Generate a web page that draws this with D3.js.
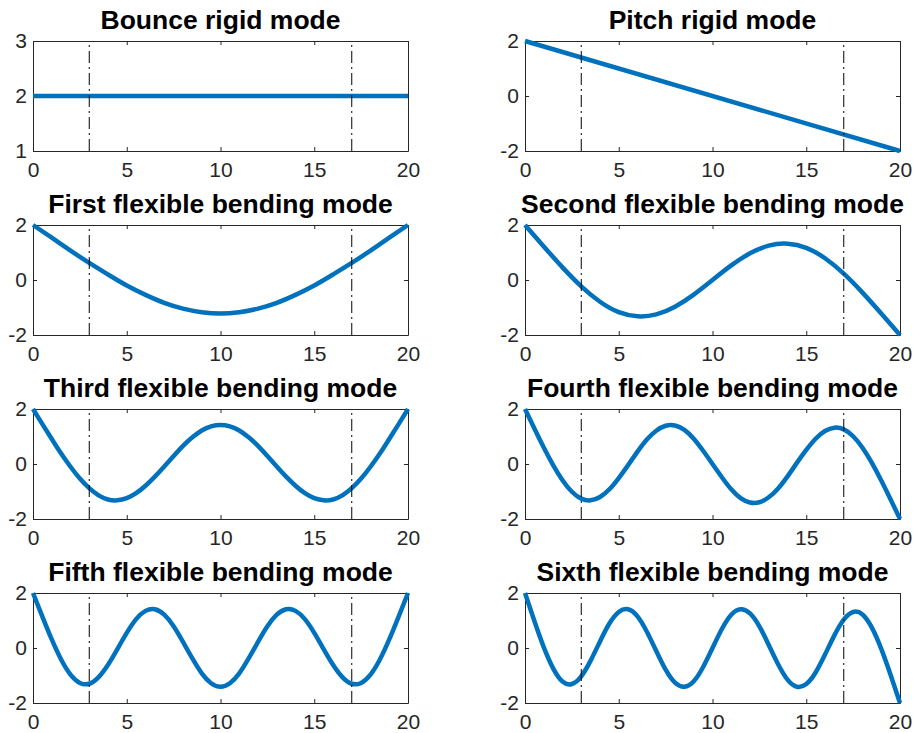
<!DOCTYPE html>
<html>
<head>
<meta charset="utf-8">
<script src="https://cdn.jsdelivr.net/npm/d3@7"></script>
<style>
  html, body { margin: 0; padding: 0; background: #fff; }
  svg { display: block; }
</style>
</head>
<body>
<svg id="chart" width="914" height="733"></svg>
<script>
// Beam position along the body (m)
const xRigid = [0, 20];
const xCoarse = [0, 1, 2, 3, 4, 5, 6, 7, 8, 9, 10, 11, 12, 13, 14, 15, 16, 17, 18, 19, 20];
const xFine = [0, 0.5, 1, 1.5, 2, 2.5, 3, 3.5, 4, 4.5, 5, 5.5, 6, 6.5, 7, 7.5, 8, 8.5, 9, 9.5,
               10, 10.5, 11, 11.5, 12, 12.5, 13, 13.5, 14, 14.5, 15, 15.5, 16, 16.5, 17, 17.5,
               18, 18.5, 19, 19.5, 20];

// Mode shape amplitudes
const bounceMode = [2, 2];
const pitchMode = [2, -2];
const bending1 = [2, 1.54, 1.07, 0.62, 0.20, -0.20, -0.54, -0.83, -1.04, -1.17, -1.22,
                  -1.17, -1.04, -0.83, -0.54, -0.20, 0.20, 0.62, 1.07, 1.54, 2];
const bending2 = [2, 1.22, 0.46, -0.23, -0.79, -1.17, -1.32, -1.25, -0.97, -0.53, 0,
                  0.53, 0.97, 1.25, 1.32, 1.17, 0.79, 0.23, -0.46, -1.22, -2];
const bending3 = [2, 1.45, 0.91, 0.38, -0.10, -0.53, -0.88, -1.14, -1.29, -1.32, -1.24,
                  -1.06, -0.79, -0.46, -0.09, 0.29, 0.66, 0.97, 1.22, 1.37, 1.42,
                  1.37, 1.22, 0.97, 0.66, 0.29, -0.09, -0.46, -0.79, -1.06, -1.24,
                  -1.32, -1.29, -1.14, -0.88, -0.53, -0.10, 0.38, 0.91, 1.45, 2];
const bending4 = [2, 1.29, 0.60, -0.04, -0.59, -1.01, -1.26, -1.32, -1.20, -0.92, -0.51,
                  -0.04, 0.45, 0.89, 1.21, 1.39, 1.40, 1.24, 0.92, 0.48, 0,
                  -0.48, -0.92, -1.24, -1.40, -1.39, -1.21, -0.89, -0.45, 0.04, 0.51,
                  0.92, 1.20, 1.32, 1.26, 1.01, 0.59, 0.04, -0.60, -1.29, -2];
const bending5 = [2, 1.14, 0.31, -0.42, -0.97, -1.27, -1.30, -1.06, -0.61, -0.04, 0.55,
                  1.05, 1.35, 1.41, 1.21, 0.79, 0.22, -0.38, -0.92, -1.28, -1.41,
                  -1.28, -0.92, -0.38, 0.22, 0.79, 1.21, 1.41, 1.35, 1.05, 0.55,
                  -0.04, -0.61, -1.06, -1.30, -1.27, -0.97, -0.42, 0.31, 1.14, 2];
const bending6 = [2, 0.98, 0.03, -0.74, -1.22, -1.31, -1.03, -0.46, 0.24, 0.89, 1.31,
                  1.41, 1.15, 0.59, -0.11, -0.79, -1.26, -1.41, -1.21, -0.69, 0,
                  0.69, 1.21, 1.41, 1.26, 0.79, 0.11, -0.59, -1.15, -1.41, -1.31,
                  -0.89, -0.24, 0.46, 1.03, 1.31, 1.22, 0.74, -0.03, -0.98, -2];

// Suspension / support stations marked on every panel
const supportX = [3, 17];

// Titles and axis ticks
const titles = ["Bounce rigid mode", "Pitch rigid mode",
                "First flexible bending mode", "Second flexible bending mode",
                "Third flexible bending mode", "Fourth flexible bending mode",
                "Fifth flexible bending mode", "Sixth flexible bending mode"];
const xTicks = [0, 5, 10, 15, 20];
const yTicksRigid = [1, 2, 3];
const yTicksFlex = [-2, 0, 2];

const panels = [
  { title: titles[0], x: xRigid, y: bounceMode, yDomain: [1, 3], yTicks: yTicksRigid },
  { title: titles[1], x: xRigid, y: pitchMode, yDomain: [-2, 2], yTicks: yTicksFlex },
  { title: titles[2], x: xCoarse, y: bending1, yDomain: [-2, 2], yTicks: yTicksFlex },
  { title: titles[3], x: xCoarse, y: bending2, yDomain: [-2, 2], yTicks: yTicksFlex },
  { title: titles[4], x: xFine, y: bending3, yDomain: [-2, 2], yTicks: yTicksFlex },
  { title: titles[5], x: xFine, y: bending4, yDomain: [-2, 2], yTicks: yTicksFlex },
  { title: titles[6], x: xFine, y: bending5, yDomain: [-2, 2], yTicks: yTicksFlex },
  { title: titles[7], x: xFine, y: bending6, yDomain: [-2, 2], yTicks: yTicksFlex }
];

// Grid geometry
const colLeft = [33, 525];
const panelW = 375;
const rowTop = [41, 225, 409, 593];
const panelH = 110;
const axisColor = "#262626";
const lineColor = "#0072BD";
const font = '"Liberation Sans", Arial, Helvetica, sans-serif';
const plainNumber = d => String(d);   // ASCII hyphen for negatives

const svg = d3.select("#chart");
svg.append("rect").attr("width", 914).attr("height", 733).attr("fill", "#fff");

panels.forEach((p, i) => {
  const col = i % 2, row = Math.floor(i / 2);
  const g = svg.append("g")
    .attr("transform", `translate(${colLeft[col]},${rowTop[row]})`);

  const x = d3.scaleLinear().domain([0, 20]).range([0, panelW]);
  const y = d3.scaleLinear().domain(p.yDomain).range([panelH, 0]);

  // Axes: labelled bottom/left, tick-only top/right, ticks pointing inward
  const styleAxis = (sel, showLabels) => {
    sel.selectAll(".domain").attr("stroke", axisColor).attr("stroke-width", 1);
    sel.selectAll(".tick line").attr("stroke", axisColor).attr("stroke-width", 1);
    sel.selectAll(".tick text")
      .attr("fill", axisColor)
      .style("font-size", "21px")
      .style("font-family", font)
      .attr("display", showLabels ? null : "none");
  };

  g.append("g").attr("transform", `translate(0,${panelH})`)
    .call(d3.axisBottom(x).tickValues(xTicks).tickSizeInner(-4).tickSizeOuter(0)
      .tickPadding(11).tickFormat(plainNumber))
    .call(s => styleAxis(s, true));
  g.append("g")
    .call(d3.axisTop(x).tickValues(xTicks).tickSizeInner(-4).tickSizeOuter(0))
    .call(s => styleAxis(s, false));
  g.append("g")
    .call(d3.axisLeft(y).tickValues(p.yTicks).tickSizeInner(-4).tickSizeOuter(0)
      .tickPadding(6).tickFormat(plainNumber))
    .call(s => styleAxis(s, true));
  g.append("g").attr("transform", `translate(${panelW},0)`)
    .call(d3.axisRight(y).tickValues(p.yTicks).tickSizeInner(-4).tickSizeOuter(0))
    .call(s => styleAxis(s, false));

  // Mode shape curve
  const pts = p.x.map((xv, k) => [xv, p.y[k]]);
  g.append("path")
    .datum(pts)
    .attr("fill", "none")
    .attr("stroke", lineColor)
    .attr("stroke-width", 4.5)
    .attr("stroke-linejoin", "round")
    .attr("d", d3.line().x(d => x(d[0])).y(d => y(d[1])).curve(d3.curveNatural));

  // Support stations
  g.selectAll("line.support")
    .data(supportX)
    .join("line")
    .attr("class", "support")
    .attr("x1", d => x(d)).attr("x2", d => x(d))
    .attr("y1", y(p.yDomain[0])).attr("y2", y(p.yDomain[1]))
    .attr("stroke", "#000")
    .attr("stroke-width", 1)
    .attr("stroke-dasharray", "12,4,2,4");

  // Title
  g.append("text")
    .attr("x", panelW / 2)
    .attr("y", -12)
    .attr("text-anchor", "middle")
    .style("font-family", font)
    .style("font-weight", "bold")
    .style("font-size", "26.5px")
    .attr("fill", "#000")
    .text(p.title);
});
</script>
</body>
</html>
